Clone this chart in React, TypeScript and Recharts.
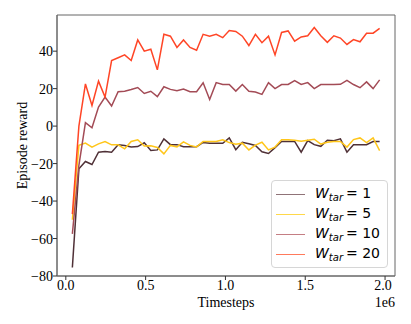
import React from 'react';
import { LineChart, Line, XAxis, YAxis, Legend, ReferenceArea } from 'recharts';

const timesteps = [
  40960, 81920, 122880, 163840, 204800, 245760, 286720, 327680, 368640, 409600,
  450560, 491520, 532480, 573440, 614400, 655360, 696320, 737280, 778240, 819200,
  860160, 901120, 942080, 983040, 1024000, 1064960, 1105920, 1146880, 1187840, 1228800,
  1269760, 1310720, 1351680, 1392640, 1433600, 1474560, 1515520, 1556480, 1597440, 1638400,
  1679360, 1720320, 1761280, 1802240, 1843200, 1884160, 1925120, 1966080,
];

const w1 = [
  -75.5, -22.8, -18.9, -20.5, -13.9, -13.6, -13.9, -10, -10.3, -11.2,
  -10.9, -8.9, -13, -12.7, -6.8, -9.9, -9.9, -11, -11, -11,
  -8.7, -9.2, -9.2, -9.2, -6.3, -12.6, -8.6, -9.4, -10.3, -13.7,
  -14.6, -11.5, -8.2, -8.2, -8.2, -13.9, -7.7, -9.9, -10.8, -7.5,
  -7.8, -6.8, -13.9, -9.9, -9.9, -9.9, -8.2, -8.2,
];

const w5 = [
  -50, -10.3, -9.1, -11.2, -9.5, -8.2, -10, -10, -12.1, -8.2,
  -7.3, -10.6, -10.5, -11.4, -14.8, -10.3, -11.1, -8.4, -10.3, -11.1,
  -8.2, -8.2, -8.2, -7.3, -8.8, -9.7, -9.1, -12.7, -10.1, -8.6,
  -12.7, -11.2, -7.3, -7.3, -7.5, -8.1, -7.5, -7, -9.6, -8.6,
  -8.2, -8.2, -11.2, -7.2, -6.3, -8.8, -6.3, -13.1,
];

const w10 = [
  -57.5, -21, 1.8, -0.9, 10.2, 15.5, 10.7, 18.4, 18.6, 19.5,
  20.6, 17.4, 18.6, 15.7, 21, 19.6, 18.9, 19.8, 18.4, 18.4,
  23.1, 14.2, 23.2, 22.2, 22.2, 18.7, 22.2, 18.6, 18.2, 16.9,
  23.2, 20, 22.2, 22.2, 24.3, 22.2, 23.2, 20, 22.2, 22.2,
  22.2, 22.3, 24.4, 22.2, 20.5, 23.6, 20, 24.7,
];

const w20 = [
  -47, 0, 22.5, 11, 24, 15.5, 35, 36.5, 38, 35,
  46, 40, 41, 30, 49, 48, 42, 46, 42, 40.5,
  49, 48, 49, 47.2, 51, 50.5, 48, 43, 49, 44.5,
  48, 38, 50, 50.8, 45.3, 47.6, 48.2, 52.6, 48.2, 44.7,
  48.2, 47, 43.6, 46.2, 45, 49.5, 49.6, 52.2,
];

const xTicks = [0, 500000, 1000000, 1500000, 2000000];
const yTicks = [-80, -60, -40, -20, 0, 20, 40];
const xDomain = [-55296, 2062336];
const yDomain = [-80, 59.3];

const seriesKeys = ['w1', 'w5', 'w10', 'w20'];
const seriesLabels = ['1', '5', '10', '20'];
const seriesColors = ['#4f3036', '#ffc61a', '#a34b56', '#ff4526'];
const legendColors = ['#8f7378', '#ffd84a', '#c47e84', '#ff7a5c'];

const data = timesteps.map((t, i) => ({ t, w1: w1[i], w5: w5[i], w10: w10[i], w20: w20[i] }));

const serif = '"Liberation Serif", "Times New Roman", serif';
const spine = '#666';

const fmtY = (v: number) => String(v).replace('-', '\u2212');
const fmtX = (v: number) => (v / 1e6).toFixed(1);

const XTick = (props: any) => {
  const { x, y, payload } = props;
  return (
    <text x={x} y={y} dy="0.71em" textAnchor="middle" fontFamily={serif} fontSize={14} fill="#000"
      style={{ fontFamily: serif }}>{fmtX(payload.value)}</text>
  );
};

const YTick = (props: any) => {
  const { x, y, payload } = props;
  return (
    <text x={x} y={y} dy="0.36em" textAnchor="end" fontFamily={serif} fontSize={14} fill="#000"
      style={{ fontFamily: serif }}>{fmtY(payload.value)}</text>
  );
};

const YLabel = (props: any) => {
  const vb = props.viewBox || { x: 0, y: 15, width: 57, height: 261 };
  const cx = vb.x + 22;
  const cy = vb.y + vb.height / 2;
  return (
    <text x={cx} y={cy} transform={`rotate(-90, ${cx}, ${cy})`} textAnchor="middle" dominantBaseline="central"
      fontFamily={serif} fontSize={14} fill="#000">Episode reward</text>
  );
};

const XLabel = (props: any) => {
  const vb = props.viewBox || { x: 57, y: 276, width: 338, height: 48 };
  return (
    <g>
      <text x={vb.x + vb.width / 2} y={vb.y + 31} textAnchor="middle" fontFamily={serif} fontSize={14} fill="#000">Timesteps</text>
      <text x={vb.x + vb.width} y={vb.y + 31} textAnchor="end" fontFamily={serif} fontSize={14} fill="#000">1e6</text>
    </g>
  );
};

const LegendBox = () => (
  <div style={{
    width: 117, height: 88, boxSizing: 'border-box', border: '1px solid #d6d6d6', borderRadius: 4,
    background: 'rgba(255,255,255,0.85)', padding: '3px 0 0 4px',
    fontFamily: '"DejaVu Sans", sans-serif', fontSize: 14, color: '#000',
  }}>
    {seriesKeys.map((k, i) => (
      <div key={k} style={{ display: 'flex', alignItems: 'center', height: 20 }}>
        <div style={{ width: 29, height: 0, borderTop: `1.5px solid ${legendColors[i]}`, marginRight: 10 }} />
        <span style={{ whiteSpace: 'nowrap' }}>
          <i>W</i><sub style={{ fontSize: 10, verticalAlign: -3 }}><i>tar</i></sub>
          <span style={{ marginLeft: 3 }}>= {seriesLabels[i]}</span>
        </span>
      </div>
    ))}
  </div>
);

export default function App() {
  return (
    <div style={{ position: 'absolute', left: 0, top: 0, width: 411, height: 324, background: '#fff', fontFamily: serif }}>
      <LineChart width={411} height={324} data={data} margin={{ top: 15, right: 16, bottom: 0, left: 0 }}>
        <XAxis
          dataKey="t"
          type="number"
          domain={xDomain}
          allowDataOverflow
          ticks={xTicks}
          height={48}
          tickSize={4}
          tickMargin={0}
          axisLine={{ stroke: spine, strokeWidth: 1 }}
          tickLine={{ stroke: '#333' }}
          tick={<XTick />}
          label={<XLabel />}
        />
        <YAxis
          type="number"
          domain={yDomain}
          allowDataOverflow
          ticks={yTicks}
          width={57}
          tickSize={4}
          tickMargin={0}
          axisLine={{ stroke: spine, strokeWidth: 1 }}
          tickLine={{ stroke: '#333' }}
          tick={<YTick />}
          label={<YLabel />}
        />
        <ReferenceArea x1={xDomain[0]} x2={xDomain[1]} y1={yDomain[0]} y2={yDomain[1]}
          fill="none" fillOpacity={0} stroke={spine} strokeWidth={1} ifOverflow="visible" />
        {seriesKeys.map((k, i) => (
          <Line key={k} dataKey={k} name={`W_tar = ${seriesLabels[i]}`} stroke={seriesColors[i]} strokeWidth={1.5}
            dot={false} activeDot={false} isAnimationActive={false} type="linear" />
        ))}
        <Legend layout="vertical" align="center" verticalAlign="middle" width={117} height={88}
          wrapperStyle={{ left: 271, top: 180, width: 117, height: 88 }} content={<LegendBox />} />
      </LineChart>
    </div>
  );
}
